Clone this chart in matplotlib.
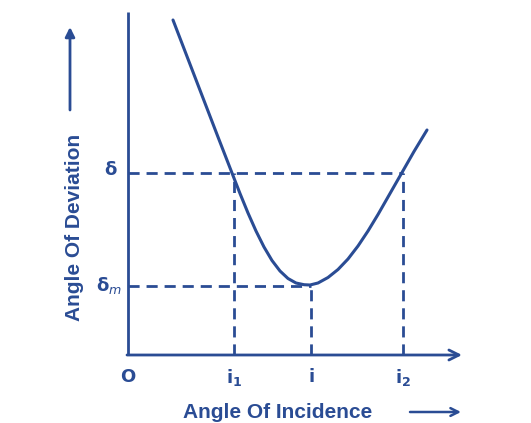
import numpy as np
import matplotlib.pyplot as plt

# deviation curve (arbitrary units, origin at O)
incidence = [45, 60, 75, 90, 104, 112, 120, 128, 136, 144, 152, 160, 168,
             176, 182, 190, 200, 210, 220, 230, 240, 250, 262, 274, 286, 299]
deviation = [335, 296, 257, 218, 182, 161.5, 142, 124, 108, 94.5, 84, 76.5,
             72, 70.3, 70, 72, 77.5, 85.5, 96, 109, 124, 140.5, 161.5, 182.5,
             203.5, 225]

i1, i_m, i2 = 106, 183, 275
delta, delta_m = 182, 69
tick_labels = ['O', r'$\mathregular{i_1}$', r'$\mathregular{i}$', r'$\mathregular{i_2}$']

col = '#2a4c94'
W, H = 531, 423
fig = plt.figure(figsize=(W / 100, H / 100), dpi=100, facecolor='white')
ax = fig.add_axes([10 / W, 0, 1 - 10 / W, 1 - 12 / H])
ax.set_facecolor('#f6f8fc')
ax.set_xlim(-118, 403)
ax.set_ylim(-68, 343)
ax.axis('off')
ax.patch.set_visible(True)

# axes
ax.plot([0, 0], [0, 343], color=col, lw=2, solid_capstyle='butt')
ax.annotate('', xy=(334, 0), xytext=(-1, 0),
            arrowprops=dict(arrowstyle='->', color=col, lw=2,
                            mutation_scale=18, shrinkA=0, shrinkB=0))

# dashed guide lines
dash = dict(color=col, lw=2, ls=(0, (4, 2.5)))
ax.plot([0, i2], [delta, delta], **dash)
ax.plot([0, i_m], [delta_m, delta_m], **dash)
ax.plot([i1, i1], [0, delta], **dash)
ax.plot([i_m, i_m], [0, delta_m], **dash)
ax.plot([i2, i2], [0, delta], **dash)

# curve
ax.plot(incidence, deviation, color=col, lw=2.2,
        solid_capstyle='round', solid_joinstyle='round')

# labels
fnt = dict(color=col, ha='center', va='center')
ax.text(-18, delta + 3, 'δ', fontsize=13, fontweight='bold', **fnt)
ax.text(-19, delta_m + 1, r'$\mathbf{\delta}_{m}$', fontsize=13, **fnt)
for xv, lab in zip([0, i1, i_m, i2], tick_labels):
    ax.text(xv, -22, lab, fontsize=13, fontweight='bold', **fnt)

ax.text(150, -57, 'Angle Of Incidence', fontsize=15, fontweight='bold',
        family='Liberation Sans', **fnt)
ax.annotate('', xy=(333, -57), xytext=(282, -57),
            arrowprops=dict(arrowstyle='->', color=col, lw=1.8,
                            mutation_scale=14, shrinkA=0, shrinkB=0))

ax.text(-53, 128, 'Angle Of Deviation', fontsize=15, fontweight='bold',
        family='Liberation Sans', rotation=90, **fnt)
ax.annotate('', xy=(-58, 328), xytext=(-58, 245),
            arrowprops=dict(arrowstyle='-|>', color=col, lw=2,
                            mutation_scale=14, shrinkA=0, shrinkB=0))

fig.savefig('out.png', dpi=100, facecolor='white')
